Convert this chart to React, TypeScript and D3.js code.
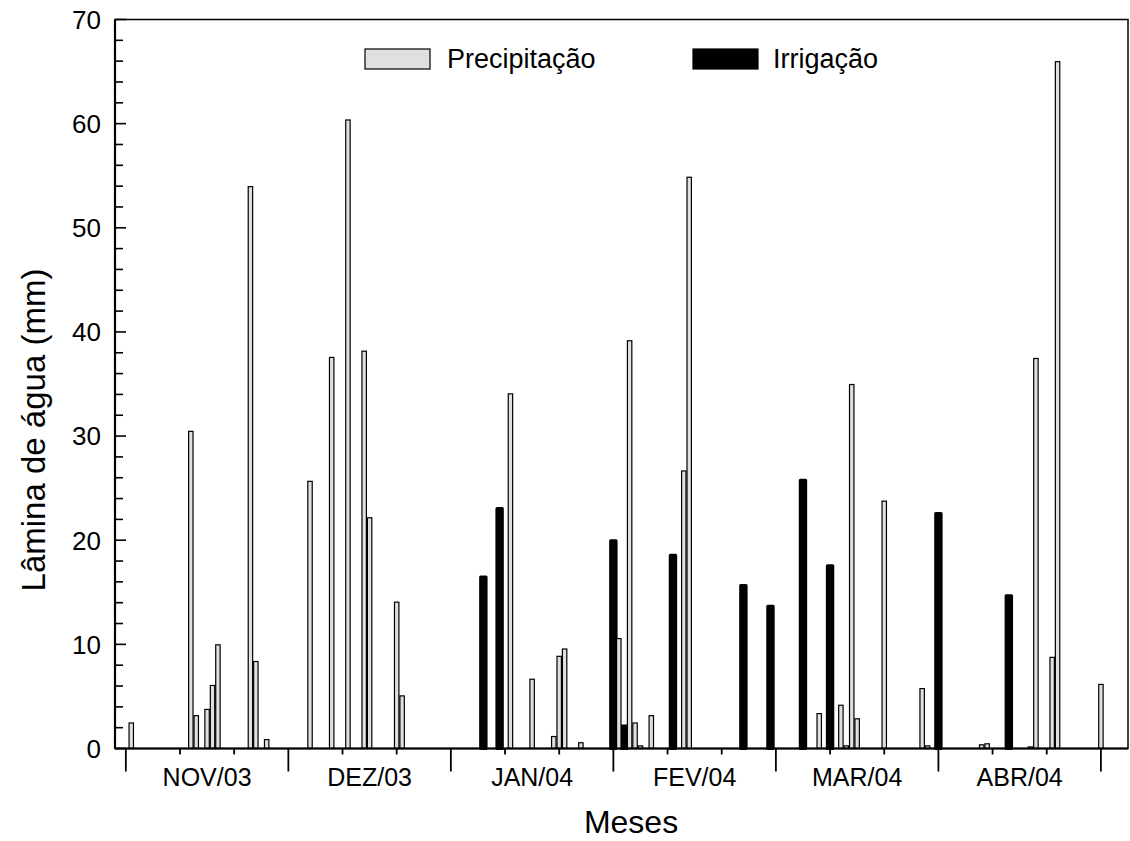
import React, { useEffect, useRef } from 'react';
import * as d3 from 'd3';

const W = 1130;
const H = 841;

// day index of the period (1 = 1st of Nov/03), value in mm
const precipDays = [1, 12, 13, 15, 16, 17, 23, 24, 26, 34, 38, 41, 44, 45, 50, 51, 71, 75, 79, 80, 81, 84, 91, 93, 94, 95, 97, 103, 104, 128, 132, 133, 134, 135, 140, 147, 148, 158, 159, 167, 168, 171, 172, 180];
const precipVals = [2.5, 30.5, 3.2, 3.8, 6.1, 10.0, 54.0, 8.4, 0.9, 25.7, 37.6, 60.4, 38.2, 22.2, 14.1, 5.1, 34.1, 6.7, 1.2, 8.9, 9.6, 0.6, 10.6, 39.2, 2.5, 0.3, 3.2, 26.7, 54.9, 3.4, 4.2, 0.3, 35.0, 2.9, 23.8, 5.8, 0.3, 0.4, 0.5, 0.2, 37.5, 8.8, 66.0, 6.2];

const irrDays = [66, 69, 90, 92, 101, 114, 119, 125, 130, 150, 163];
const irrVals = [16.6, 23.2, 20.1, 2.3, 18.7, 15.8, 13.8, 25.9, 17.7, 22.7, 14.8];

const months = ['NOV/03', 'DEZ/03', 'JAN/04', 'FEV/04', 'MAR/04', 'ABR/04'];
const yTicks = [0, 10, 20, 30, 40, 50, 60, 70];

const FONT = '"Liberation Sans", Arial, sans-serif';

export default function App() {
  const ref = useRef<SVGSVGElement>(null);

  useEffect(() => {
    const svg = d3.select(ref.current);
    svg.selectAll('*').remove();

    const left = 115, right = 1128, top = 19.5, bottom = 748.5;
    const x = d3.scaleLinear().domain([-2, 185]).range([left, right]);
    const y = d3.scaleLinear().domain([0, 70]).range([bottom, top]);
    const bw = x(1) - x(0);

    // irrigation bars (thick black outline gives rounded tops)
    svg.append('g')
      .selectAll('rect')
      .data(irrDays.map((d, i) => [d, irrVals[i]]))
      .enter()
      .append('rect')
      .attr('x', d => x(d[0]) - bw / 2)
      .attr('y', d => y(d[1]) + 1.5)
      .attr('width', bw)
      .attr('height', d => Math.max(0, bottom - y(d[1]) - 1.5))
      .attr('fill', '#000')
      .attr('stroke', '#000')
      .attr('stroke-width', 3)
      .attr('stroke-linejoin', 'round');

    // precipitation bars
    svg.append('g')
      .selectAll('rect')
      .data(precipDays.map((d, i) => [d, precipVals[i]]))
      .enter()
      .append('rect')
      .attr('x', d => x(d[0]) - bw / 2 + 0.5)
      .attr('y', d => y(d[1]) + 0.5)
      .attr('width', bw - 1)
      .attr('height', d => Math.max(0, bottom - y(d[1]) - 0.5))
      .attr('fill', '#e0e0e0')
      .attr('stroke', '#000')
      .attr('stroke-width', 1.2);

    // frame
    svg.append('rect')
      .attr('x', left).attr('y', top)
      .attr('width', right - left).attr('height', bottom - top)
      .attr('fill', 'none').attr('stroke', '#000').attr('stroke-width', 1.5);
    svg.append('line')
      .attr('x1', left).attr('x2', right).attr('y1', bottom).attr('y2', bottom)
      .attr('stroke', '#000').attr('stroke-width', 2.2);
    svg.append('line')
      .attr('x1', left).attr('x2', left).attr('y1', top).attr('y2', bottom)
      .attr('stroke', '#000').attr('stroke-width', 2.2);

    // y ticks every 2, major every 10 (inward)
    const yMinor = d3.range(0, 71, 2);
    svg.append('g')
      .selectAll('line')
      .data(yMinor)
      .enter()
      .append('line')
      .attr('x1', left)
      .attr('x2', d => left + (d % 10 === 0 ? 11 : 8))
      .attr('y1', d => y(d)).attr('y2', d => y(d))
      .attr('stroke', '#000').attr('stroke-width', 1.6);

    svg.append('g')
      .selectAll('text')
      .data(yTicks)
      .enter()
      .append('text')
      .attr('x', 101)
      .attr('y', d => y(d))
      .attr('dy', '0.36em')
      .attr('text-anchor', 'end')
      .attr('font-family', FONT)
      .attr('font-size', 26)
      .text(d => d);

    // x ticks: minor every 10 days, major each 30
    const xT = d3.range(0, 181, 10);
    svg.append('g')
      .selectAll('line')
      .data(xT)
      .enter()
      .append('line')
      .attr('x1', d => x(d)).attr('x2', d => x(d))
      .attr('y1', bottom)
      .attr('y2', d => bottom + (d % 30 === 0 ? 23 : 6))
      .attr('stroke', '#000').attr('stroke-width', 1.8);

    svg.append('g')
      .selectAll('text')
      .data(months)
      .enter()
      .append('text')
      .attr('x', (d, i) => x(15 + i * 30))
      .attr('y', 786)
      .attr('text-anchor', 'middle')
      .attr('font-family', FONT)
      .attr('font-size', 25)
      .text(d => d);

    // axis titles
    svg.append('text')
      .attr('x', 631).attr('y', 833)
      .attr('text-anchor', 'middle')
      .attr('font-family', FONT)
      .attr('font-size', 32)
      .text('Meses');
    svg.append('text')
      .attr('transform', 'translate(45,430) rotate(-90)')
      .attr('text-anchor', 'middle')
      .attr('font-family', FONT)
      .attr('font-size', 33)
      .text('Lâmina de água (mm)');

    // legend
    const legend = [
      { label: 'Precipitação', fill: '#e0e0e0', bx: 365, tx: 447 },
      { label: 'Irrigação', fill: '#000', bx: 693, tx: 773 },
    ];
    const lg = svg.append('g');
    legend.forEach(l => {
      lg.append('rect')
        .attr('x', l.bx).attr('y', 49)
        .attr('width', 65).attr('height', 20)
        .attr('fill', l.fill).attr('stroke', '#000').attr('stroke-width', 1.2);
      lg.append('text')
        .attr('x', l.tx).attr('y', 68)
        .attr('font-family', FONT)
        .attr('font-size', 27)
        .text(l.label);
    });
  }, []);

  return (
    <svg ref={ref} width={W} height={H}
      style={{ position: 'absolute', left: 0, top: 0, background: '#fff' }} />
  );
}
